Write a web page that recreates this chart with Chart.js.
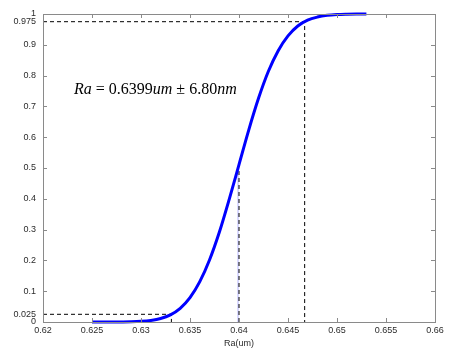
<!DOCTYPE html>
<html>
<head>
<meta charset="utf-8">
<script src="https://cdn.jsdelivr.net/npm/chart.js@4"></script>
<style>
  html, body { margin: 0; padding: 0; background: #fff; }
</style>
</head>
<body>
<canvas id="cdf" width="452" height="353"></canvas>
<script>
// Cumulative distribution of Ra
const raValues = [0.625, 0.626, 0.627, 0.628, 0.629, 0.630, 0.631, 0.632, 0.633, 0.634,
                  0.635, 0.636, 0.637, 0.638, 0.639, 0.640, 0.641, 0.642, 0.643, 0.644,
                  0.645, 0.646, 0.647, 0.648, 0.649, 0.650, 0.651, 0.652, 0.653];
const cumulative = [0.0000, 0.0000, 0.0001, 0.0003, 0.0008, 0.0022, 0.0052, 0.0113, 0.0233, 0.0446,
                    0.0793, 0.131, 0.202, 0.292, 0.398, 0.511, 0.624, 0.727, 0.814, 0.881,
                    0.929, 0.961, 0.980, 0.990, 0.9956, 0.9982, 0.9993, 0.9998, 0.9999];

const xTickValues = [0.62, 0.625, 0.63, 0.635, 0.64, 0.645, 0.65, 0.655, 0.66];
const yTickValues = [0, 0.025, 0.1, 0.2, 0.3, 0.4, 0.5, 0.6, 0.7, 0.8, 0.9, 0.975, 1];
const yTickMarks = [0, 0.1, 0.2, 0.3, 0.4, 0.5, 0.6, 0.7, 0.8, 0.9, 1];

// confidence markers
const lowerP = 0.025;
const upperP = 0.975;
const lowerRa = 0.6331;
const upperRa = 0.6467;
const meanRa = 0.6399;
const midMark = 0.64;
const midP = 0.49;

const AXIS_GREY = '#8a8a8a';
const LABEL_COL = '#2b2b2b';

/**
 * Box around the plot, inward MATLAB-style ticks and the Ra annotation.
 */
const frame = {
    id: 'frame',
    afterDraw(chart) {
        const { ctx, chartArea: a, scales } = chart;
        const x = scales.x, y = scales.y;
        ctx.save();
        ctx.strokeStyle = AXIS_GREY;
        ctx.lineWidth = 1;
        ctx.strokeRect(a.left + 0.5, a.top + 0.5, a.right - a.left, a.bottom - a.top);

        const len = 4;
        ctx.beginPath();
        xTickValues.forEach(v => {
            const px = Math.round(x.getPixelForValue(v)) + 0.5;
            ctx.moveTo(px, a.bottom); ctx.lineTo(px, a.bottom - len);
            ctx.moveTo(px, a.top); ctx.lineTo(px, a.top + len);
        });
        yTickMarks.forEach(v => {
            const py = Math.round(y.getPixelForValue(v)) + 0.5;
            ctx.moveTo(a.left, py); ctx.lineTo(a.left + len, py);
            ctx.moveTo(a.right, py); ctx.lineTo(a.right - len, py);
        });
        ctx.stroke();

        // Ra = 0.6399um ± 6.80nm
        const parts = [
            ['italic', 'Ra'],
            ['normal', ' = 0.6399'],
            ['italic', 'um'],
            ['normal', ' \u00b1 6.80'],
            ['italic', 'nm'],
        ];
        let tx = 74;
        const ty = 94;
        ctx.fillStyle = '#000';
        ctx.textBaseline = 'alphabetic';
        parts.forEach(([style, txt]) => {
            ctx.font = style + ' 16px "Liberation Serif", "Times New Roman", serif';
            ctx.fillText(txt, tx, ty);
            tx += ctx.measureText(txt).width;
        });
        ctx.restore();
    }
};

const dashed = {
    borderColor: '#000',
    borderWidth: 1,
    borderDash: [4, 3],
    pointRadius: 0,
    tension: 0,
    fill: false,
};

new Chart(document.getElementById('cdf'), {
    type: 'line',
    data: {
        datasets: [
            {
                data: raValues.map((v, i) => ({ x: v, y: cumulative[i] })),
                borderColor: '#0000ff',
                borderWidth: 3,
                pointRadius: 0,
                cubicInterpolationMode: 'monotone',
                fill: false,
                clip: 4,
            },
            Object.assign({
                data: [{ x: 0.62, y: upperP }, { x: upperRa, y: upperP }, { x: upperRa, y: 0 }],
            }, dashed),
            Object.assign({
                data: [{ x: 0.62, y: lowerP }, { x: lowerRa, y: lowerP }, { x: lowerRa, y: 0 }],
            }, dashed),
            Object.assign({
                data: [{ x: midMark, y: 0 }, { x: midMark, y: midP }],
            }, dashed),
            {
                data: [{ x: meanRa, y: 0 }, { x: meanRa, y: midP }],
                borderColor: '#b4b4ff',
                borderWidth: 1,
                pointRadius: 0,
            },
        ]
    },
    options: {
        responsive: false,
        animation: false,
        events: [],
        layout: { padding: { top: 14, right: 17, left: 0, bottom: 4 } },
        plugins: {
            legend: { display: false },
            tooltip: { enabled: false },
        },
        scales: {
            x: {
                type: 'linear',
                min: 0.62,
                max: 0.66,
                afterBuildTicks: (s) => { s.ticks = xTickValues.map(v => ({ value: v })); },
                afterFit: (s) => { s.height = 27; },
                grid: { display: false, drawTicks: false },
                border: { display: false },
                ticks: {
                    autoSkip: false,
                    maxRotation: 0,
                    padding: 3,
                    color: LABEL_COL,
                    font: { family: 'Arial, "Liberation Sans", sans-serif', size: 9 },
                    callback: (v) => String(parseFloat(Number(v).toFixed(3))),
                },
                title: {
                    display: true,
                    text: 'Ra(um)',
                    color: LABEL_COL,
                    padding: { top: 2, bottom: 0 },
                    font: { family: 'Arial, "Liberation Sans", sans-serif', size: 9 },
                },
            },
            y: {
                type: 'linear',
                min: 0,
                max: 1,
                afterBuildTicks: (s) => { s.ticks = yTickValues.map(v => ({ value: v })); },
                afterFit: (s) => { s.width = 43; },
                grid: { display: false, drawTicks: false },
                border: { display: false },
                ticks: {
                    autoSkip: false,
                    padding: 7,
                    color: LABEL_COL,
                    font: { family: 'Arial, "Liberation Sans", sans-serif', size: 9 },
                    callback: (v) => String(parseFloat(Number(v).toFixed(3))),
                },
            },
        },
    },
    plugins: [frame],
});
</script>
</body>
</html>
